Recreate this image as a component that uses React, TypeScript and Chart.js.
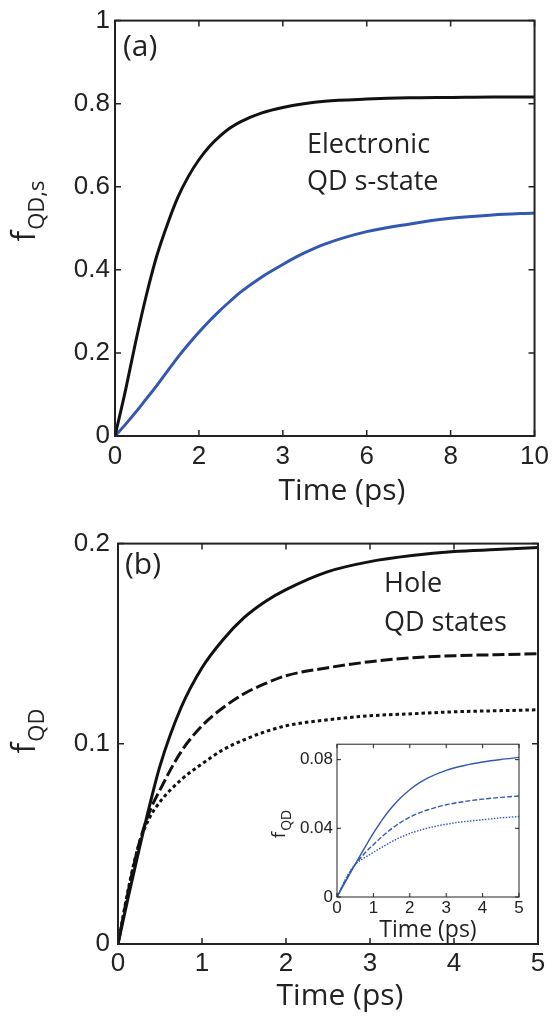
import React, { useEffect, useRef } from "react";
import { Chart, registerables } from "chart.js";

Chart.register(...registerables);

// ---------- Panel (a): electronic QD s-state ----------
const aTime = [0, 0.25, 0.5, 0.75, 1, 1.25, 1.5, 1.75, 2, 2.25, 2.5, 2.75, 3, 3.5, 4, 4.5, 5, 6, 7, 8, 9, 10];
const aBlack = [0, 0.11, 0.23, 0.34, 0.435, 0.51, 0.575, 0.625, 0.665, 0.697, 0.722, 0.742, 0.757, 0.778, 0.791, 0.8, 0.806, 0.811, 0.814, 0.815, 0.816, 0.816];
const aBlue = [0, 0.028, 0.058, 0.09, 0.122, 0.156, 0.19, 0.221, 0.25, 0.277, 0.302, 0.325, 0.347, 0.383, 0.413, 0.44, 0.462, 0.492, 0.51, 0.524, 0.532, 0.537];
const aXTicks = [0, 2, 4, 6, 8, 10];
const aXTickLabels = ["0", "2", "3", "6", "8", "10"];
const aYTicks = [0, 0.2, 0.4, 0.6, 0.8, 1];
const aYTickLabels = ["0", "0.2", "0.4", "0.6", "0.8", "1"];

// ---------- Panel (b): hole QD states ----------
const bTime = [0, 0.125, 0.25, 0.375, 0.5, 0.75, 1, 1.25, 1.5, 1.75, 2, 2.5, 3, 3.5, 4, 4.5, 5];
const bSolid = [0, 0.024, 0.047, 0.069, 0.089, 0.118, 0.138, 0.152, 0.163, 0.171, 0.177, 0.186, 0.191, 0.194, 0.196, 0.197, 0.198];
const bDashed = [0, 0.027, 0.05, 0.066, 0.077, 0.096, 0.109, 0.118, 0.125, 0.13, 0.134, 0.138, 0.141, 0.143, 0.144, 0.1445, 0.145];
const bDotted = [0, 0.028, 0.05, 0.063, 0.071, 0.082, 0.09, 0.097, 0.102, 0.106, 0.109, 0.112, 0.114, 0.115, 0.116, 0.1165, 0.117];
const bXTicks = [0, 1, 2, 3, 4, 5];
const bXTickLabels = ["0", "1", "2", "3", "4", "5"];
const bYTicks = [0, 0.1, 0.2];
const bYTickLabels = ["0", "0.1", "0.2"];

// ---------- Inset of (b) ----------
const iTime = [0, 0.25, 0.5, 0.75, 1, 1.25, 1.5, 1.75, 2, 2.25, 2.5, 3, 3.5, 4, 4.5, 5];
const iSolid = [0, 0.0095, 0.019, 0.0283, 0.0372, 0.0452, 0.0521, 0.0578, 0.0625, 0.0663, 0.0694, 0.0738, 0.0766, 0.0786, 0.0801, 0.0813];
const iDashed = [0, 0.0105, 0.019, 0.0252, 0.0305, 0.0354, 0.0398, 0.0435, 0.0465, 0.0489, 0.0508, 0.0537, 0.0556, 0.057, 0.058, 0.0588];
const iDotted = [0, 0.011, 0.019, 0.0228, 0.026, 0.0292, 0.0322, 0.0348, 0.037, 0.0387, 0.0402, 0.0424, 0.0439, 0.045, 0.0461, 0.0469];
const iXTicks = [0, 1, 2, 3, 4, 5];
const iXTickLabels = ["0", "1", "2", "3", "4", "5"];
const iYTicks = [0, 0.04, 0.08];
const iYTickLabels = ["0", "0.04", "0.08"];

const INK = "#222222";
const BLUE = "#3358b0";
const TICK_FONT = "'Liberation Sans', Arial, sans-serif";
const TEXT_FONT = "'Open Sans', 'DejaVu Sans', sans-serif";

type TextItem = {
  text: string;
  sub?: string;
  x: number;
  y: number;
  size: number;
  subSize?: number;
  subDy?: number;
  align?: "left" | "center";
  rotate?: boolean;
};

const textPlugin = {
  id: "texts",
  afterDraw(chart: any, _args: any, opts: any) {
    const ctx = chart.ctx as CanvasRenderingContext2D;
    const items: TextItem[] = (opts && opts.items) || [];
    for (const it of items) {
      ctx.save();
      ctx.translate(it.x, it.y);
      if (it.rotate) ctx.rotate(-Math.PI / 2);
      ctx.fillStyle = INK;
      ctx.textBaseline = "alphabetic";
      ctx.textAlign = "left";
      const mainFont = `${it.size}px ${TEXT_FONT}`;
      const subFont = `${it.subSize || it.size}px ${TEXT_FONT}`;
      ctx.font = mainFont;
      const mw = ctx.measureText(it.text).width;
      let sw = 0;
      if (it.sub) {
        ctx.font = subFont;
        sw = ctx.measureText(it.sub).width + 1;
      }
      const x0 = it.align === "center" ? -(mw + sw) / 2 : 0;
      ctx.font = mainFont;
      ctx.fillText(it.text, x0, 0);
      if (it.sub) {
        ctx.font = subFont;
        ctx.fillText(it.sub, x0 + mw + 1, it.subDy || 0);
      }
      ctx.restore();
    }
  },
};

const framePlugin = {
  id: "frame",
  afterDatasetsDraw(chart: any, _args: any, opts: any) {
    const ctx = chart.ctx as CanvasRenderingContext2D;
    const { left, right, top, bottom } = chart.chartArea;
    const lw = opts.lineWidth || 1;
    const tl = opts.tickLen || 5;
    ctx.save();
    ctx.strokeStyle = INK;
    ctx.lineWidth = lw;
    ctx.strokeRect(left, top, right - left, bottom - top);
    ctx.lineWidth = Math.max(1, lw * 0.75);
    const xs = chart.scales.x;
    const ys = chart.scales.y;
    ctx.beginPath();
    for (const t of xs.ticks) {
      const px = xs.getPixelForValue(t.value);
      ctx.moveTo(px, bottom);
      ctx.lineTo(px, bottom - tl);
      ctx.moveTo(px, top);
      ctx.lineTo(px, top + tl);
    }
    for (const t of ys.ticks) {
      const py = ys.getPixelForValue(t.value);
      ctx.moveTo(left, py);
      ctx.lineTo(left + tl, py);
      ctx.moveTo(right, py);
      ctx.lineTo(right - tl, py);
    }
    ctx.stroke();
    ctx.restore();
  },
};

type PanelSpec = {
  datasets: any[];
  xMin: number;
  xMax: number;
  yMin: number;
  yMax: number;
  xTicks: number[];
  xTickLabels: string[];
  yTicks: number[];
  yTickLabels: string[];
  tickSize: number;
  xPad: number;
  yPad: number;
  yAxisWidth: number;
  xAxisHeight: number;
  padding: { top: number; right: number; bottom: number; left: number };
  frameWidth: number;
  tickLen: number;
  texts: TextItem[];
};

function makeConfig(p: PanelSpec): any {
  return {
    type: "line",
    data: { datasets: p.datasets },
    options: {
      animation: false,
      responsive: false,
      devicePixelRatio: 1,
      layout: { padding: p.padding },
      elements: { point: { radius: 0 } },
      plugins: {
        legend: { display: false },
        tooltip: { enabled: false },
        texts: { items: p.texts },
        frame: { lineWidth: p.frameWidth, tickLen: p.tickLen },
      },
      scales: {
        x: {
          type: "linear",
          min: p.xMin,
          max: p.xMax,
          grid: { display: false, drawTicks: false },
          border: { display: false },
          afterBuildTicks: (s: any) => {
            s.ticks = p.xTicks.map((v) => ({ value: v }));
          },
          afterFit: (s: any) => {
            s.height = p.xAxisHeight;
          },
          ticks: {
            autoSkip: false,
            maxRotation: 0,
            padding: p.xPad,
            color: INK,
            font: { family: TICK_FONT, size: p.tickSize },
            callback: (_v: any, i: number) => p.xTickLabels[i],
          },
        },
        y: {
          type: "linear",
          min: p.yMin,
          max: p.yMax,
          grid: { display: false, drawTicks: false },
          border: { display: false },
          afterBuildTicks: (s: any) => {
            s.ticks = p.yTicks.map((v) => ({ value: v }));
          },
          afterFit: (s: any) => {
            s.width = p.yAxisWidth;
          },
          ticks: {
            autoSkip: false,
            padding: p.yPad,
            color: INK,
            font: { family: TICK_FONT, size: p.tickSize },
            callback: (_v: any, i: number) => p.yTickLabels[i],
          },
        },
      },
    },
    plugins: [framePlugin, textPlugin],
  };
}

const pts = (xs: number[], ys: number[]) => xs.map((x, i) => ({ x, y: ys[i] }));

function line(data: any[], color: string, width: number, dash: number[] = []) {
  return {
    data,
    borderColor: color,
    borderWidth: width,
    borderDash: dash,
    borderCapStyle: "butt",
    fill: false,
    cubicInterpolationMode: "monotone",
    pointRadius: 0,
  };
}

function ChartCanvas({ config, left, top, width, height }: any) {
  const ref = useRef<HTMLCanvasElement | null>(null);
  useEffect(() => {
    if (!ref.current) return;
    const chart = new Chart(ref.current, config);
    return () => chart.destroy();
  }, [config]);
  return (
    <canvas
      ref={ref}
      width={width}
      height={height}
      style={{ position: "absolute", left, top, width, height }}
    />
  );
}

const configA = makeConfig({
  datasets: [line(pts(aTime, aBlack), "#111111", 3), line(pts(aTime, aBlue), BLUE, 3)],
  xMin: 0,
  xMax: 10,
  yMin: 0,
  yMax: 1,
  xTicks: aXTicks,
  xTickLabels: aXTickLabels,
  yTicks: aYTicks,
  yTickLabels: aYTickLabels,
  tickSize: 26,
  xPad: 5,
  yPad: 5,
  yAxisWidth: 115,
  xAxisHeight: 84,
  padding: { top: 20, right: 19, bottom: 0, left: 0 },
  frameWidth: 2,
  tickLen: 6,
  texts: [
    { text: "(a)", x: 123, y: 56, size: 30 },
    { text: "Electronic", x: 307, y: 153, size: 27 },
    { text: "QD s-state", x: 307, y: 190, size: 27 },
    { text: "Time (ps)", x: 342, y: 500, size: 30, align: "center" },
    { text: "f", sub: "QD,s", x: 35, y: 211, size: 32, subSize: 22, subDy: 9, align: "center", rotate: true },
  ],
});

const configB = makeConfig({
  datasets: [
    line(pts(bTime, bSolid), "#111111", 3),
    line(pts(bTime, bDashed), "#111111", 3, [12, 4]),
    line(pts(bTime, bDotted), "#111111", 3, [3.5, 3]),
  ],
  xMin: 0,
  xMax: 5,
  yMin: 0,
  yMax: 0.2,
  xTicks: bXTicks,
  xTickLabels: bXTickLabels,
  yTicks: bYTicks,
  yTickLabels: bYTickLabels,
  tickSize: 26,
  xPad: 4,
  yPad: 8,
  yAxisWidth: 118,
  xAxisHeight: 73,
  padding: { top: 20, right: 16, bottom: 0, left: 0 },
  frameWidth: 2,
  tickLen: 6,
  texts: [
    { text: "(b)", x: 125, y: 54, size: 30 },
    { text: "Hole", x: 384, y: 72, size: 27 },
    { text: "QD states", x: 384, y: 111, size: 27 },
    { text: "Time (ps)", x: 340, y: 485, size: 30, align: "center" },
    { text: "f", sub: "QD", x: 35, y: 211, size: 32, subSize: 22, subDy: 9, align: "center", rotate: true },
  ],
});

const configInset = makeConfig({
  datasets: [
    line(pts(iTime, iSolid), BLUE, 1.4),
    line(pts(iTime, iDashed), BLUE, 1.4, [5, 2]),
    line(pts(iTime, iDotted), BLUE, 1.4, [1.5, 1.5]),
  ],
  xMin: 0,
  xMax: 5,
  yMin: 0,
  yMax: 0.089,
  xTicks: iXTicks,
  xTickLabels: iXTickLabels,
  yTicks: iYTicks,
  yTickLabels: iYTickLabels,
  tickSize: 17,
  xPad: 1,
  yPad: 4,
  yAxisWidth: 67,
  xAxisHeight: 63,
  padding: { top: 11, right: 11, bottom: 0, left: 0 },
  frameWidth: 1,
  tickLen: 4,
  texts: [
    { text: "Time (ps)", x: 158, y: 207, size: 23, align: "center" },
    { text: "f", sub: "QD", x: 15, y: 94, size: 19, subSize: 14, subDy: 6, align: "center", rotate: true },
  ],
});

export default function App() {
  return (
    <div
      style={{
        position: "absolute",
        left: 0,
        top: 0,
        width: 554,
        height: 1017,
        background: "#ffffff",
        overflow: "hidden",
      }}
    >
      <ChartCanvas config={configA} left={0} top={0} width={554} height={520} />
      <ChartCanvas config={configB} left={0} top={520} width={554} height={497} />
      <ChartCanvas config={configInset} left={270} top={730} width={260} height={230} />
    </div>
  );
}
